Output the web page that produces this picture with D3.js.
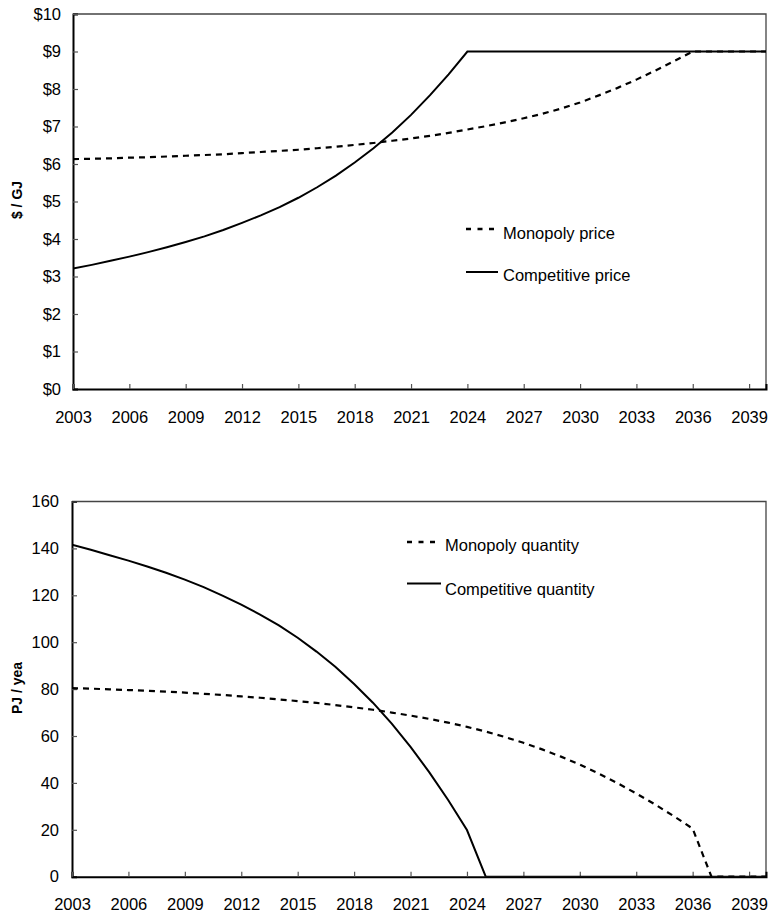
<!DOCTYPE html>
<html>
<head>
<meta charset="utf-8">
<script src="https://cdn.jsdelivr.net/npm/d3@7"></script>
<style>
  body { margin: 0; background: #fff; }
  svg { display: block; }
  text { font-family: "Liberation Sans", Arial, sans-serif; fill: #000; }
</style>
</head>
<body>
<svg id="chart" width="770" height="917"></svg>
<script>
const years = [2003,2004,2005,2006,2007,2008,2009,2010,2011,2012,2013,2014,2015,2016,2017,2018,2019,2020,2021,2022,2023,2024,2025,2026,2027,2028,2029,2030,2031,2032,2033,2034,2035,2036,2037,2038,2039,2040];

const monopolyPrice = [6.13,6.14,6.15,6.17,6.18,6.20,6.22,6.24,6.26,6.29,6.32,6.35,6.38,6.42,6.46,6.51,6.56,6.62,6.68,6.75,6.83,6.92,7.01,7.11,7.22,7.34,7.48,7.64,7.83,8.03,8.25,8.49,8.74,9.00,9.00,9.00,9.00,9.00];
const competitivePrice = [3.21,3.31,3.42,3.53,3.65,3.78,3.92,4.07,4.24,4.43,4.63,4.85,5.10,5.38,5.69,6.04,6.42,6.84,7.31,7.83,8.39,9.00,9.00,9.00,9.00,9.00,9.00,9.00,9.00,9.00,9.00,9.00,9.00,9.00,9.00,9.00,9.00,9.00];

const monopolyQuantity = [80.4,80.2,79.9,79.6,79.3,78.9,78.5,78.0,77.5,76.9,76.3,75.6,74.9,74.1,73.2,72.2,71.2,70.0,68.7,67.3,65.7,63.9,61.9,59.6,57.1,54.3,51.2,47.8,44.0,39.9,35.5,30.8,25.8,20.5,0,0,0,0];
const competitiveQuantity = [141.6,139.4,137.1,134.8,132.3,129.6,126.7,123.5,119.9,116.0,111.8,107.2,101.9,96.0,89.5,82.2,74.2,65.3,55.4,44.5,32.7,19.9,0,0,0,0,0,0,0,0,0,0,0,0,0,0,0,0];

const xTicks = [2003,2006,2009,2012,2015,2018,2021,2024,2027,2030,2033,2036,2039];
const priceTicks = [0,1,2,3,4,5,6,7,8,9,10];
const quantityTicks = [0,20,40,60,80,100,120,140,160];

const svg = d3.select("#chart");
const FONT = 16.5;

function drawPanel(cfg) {
  const g = svg.append("g");
  const x = d3.scaleLinear().domain([2003, 2039.9]).range([cfg.left, cfg.right]);
  const y = d3.scaleLinear().domain(cfg.yDomain).range([cfg.bottom, cfg.top]);

  const clipId = "clip" + cfg.id;
  svg.append("clipPath").attr("id", clipId)
    .append("rect").attr("x", cfg.left).attr("y", cfg.top - 3)
    .attr("width", cfg.right - cfg.left).attr("height", cfg.bottom - cfg.top + 3);

  // frame (top and right)
  g.append("path")
    .attr("d", `M${cfg.left},${cfg.top}H${cfg.right}V${cfg.bottom}`)
    .attr("fill", "none").attr("stroke", "#444").attr("stroke-width", 1.3);

  const yAxis = d3.axisLeft(y).tickValues(cfg.yTicks).tickSize(-5).tickPadding(cfg.yPad)
    .tickFormat(cfg.yFormat);
  const ya = g.append("g").attr("transform", `translate(${cfg.left},0)`).call(yAxis);
  ya.select(".domain").attr("stroke", "#000").attr("stroke-width", 2);
  ya.selectAll(".tick line").attr("stroke", "#555").attr("stroke-width", 1.2);
  ya.selectAll(".tick text").attr("font-size", FONT).attr("font-family", "Liberation Sans, Arial, sans-serif").attr("fill", "#000");

  const xAxis = d3.axisBottom(x).tickValues(xTicks).tickSize(-5).tickPadding(22)
    .tickFormat(d3.format("d"));
  const xa = g.append("g").attr("transform", `translate(0,${cfg.bottom})`).call(xAxis);
  xa.select(".domain").attr("stroke", "#000").attr("stroke-width", 2);
  xa.selectAll(".tick line").attr("stroke", "#555").attr("stroke-width", 1.2);
  xa.selectAll(".tick text").attr("font-size", FONT).attr("font-family", "Liberation Sans, Arial, sans-serif").attr("fill", "#000");

  // y title
  g.append("text")
    .attr("transform", `translate(${cfg.titleX},${cfg.titleY}) rotate(-90)`)
    .attr("text-anchor", "middle").attr("dy", "0.35em")
    .attr("font-size", 14).attr("font-weight", "bold")
    .text(cfg.title);

  const line = d3.line().x((d, i) => x(years[i])).y(d => y(d));
  const lg = g.append("g").attr("clip-path", `url(#${clipId})`);
  lg.append("path").datum(cfg.dashed)
    .attr("d", line).attr("fill", "none").attr("stroke", "#000")
    .attr("stroke-width", 2.2).attr("stroke-dasharray", "6,5");
  lg.append("path").datum(cfg.solid)
    .attr("d", line).attr("fill", "none").attr("stroke", "#000")
    .attr("stroke-width", 2);

  // legend
  const L = cfg.legend;
  g.append("line").attr("x1", L.x1).attr("x2", L.x2).attr("y1", L.y1).attr("y2", L.y1)
    .attr("stroke", "#000").attr("stroke-width", 2.4).attr("stroke-dasharray", "5,6.5");
  g.append("text").attr("x", L.tx).attr("y", L.b1).attr("font-size", FONT).text(L.t1);
  g.append("line").attr("x1", L.x1).attr("x2", L.x3).attr("y1", L.y2).attr("y2", L.y2)
    .attr("stroke", "#000").attr("stroke-width", 2);
  g.append("text").attr("x", L.tx).attr("y", L.b2).attr("font-size", FONT).text(L.t2);
}

drawPanel({
  id: "top", left: 73, right: 766, top: 14, bottom: 389,
  yDomain: [0, 10], yTicks: priceTicks, yPad: 12,
  yFormat: d => "$" + d,
  title: "$ / GJ", titleX: 17, titleY: 200,
  dashed: monopolyPrice, solid: competitivePrice,
  legend: { x1: 466, x2: 494, x3: 498, y1: 229, y2: 272, tx: 503, b1: 239, b2: 281,
            t1: "Monopoly price", t2: "Competitive price" }
});

drawPanel({
  id: "bot", left: 72, right: 766, top: 501.5, bottom: 876.7,
  yDomain: [0, 160], yTicks: quantityTicks, yPad: 13,
  yFormat: d3.format("d"),
  title: "PJ / yea", titleX: 17, titleY: 688,
  dashed: monopolyQuantity, solid: competitiveQuantity,
  legend: { x1: 407, x2: 437, x3: 441, y1: 542, y2: 583.5, tx: 445, b1: 551, b2: 595,
            t1: "Monopoly quantity", t2: "Competitive quantity" }
});
</script>
</body>
</html>
